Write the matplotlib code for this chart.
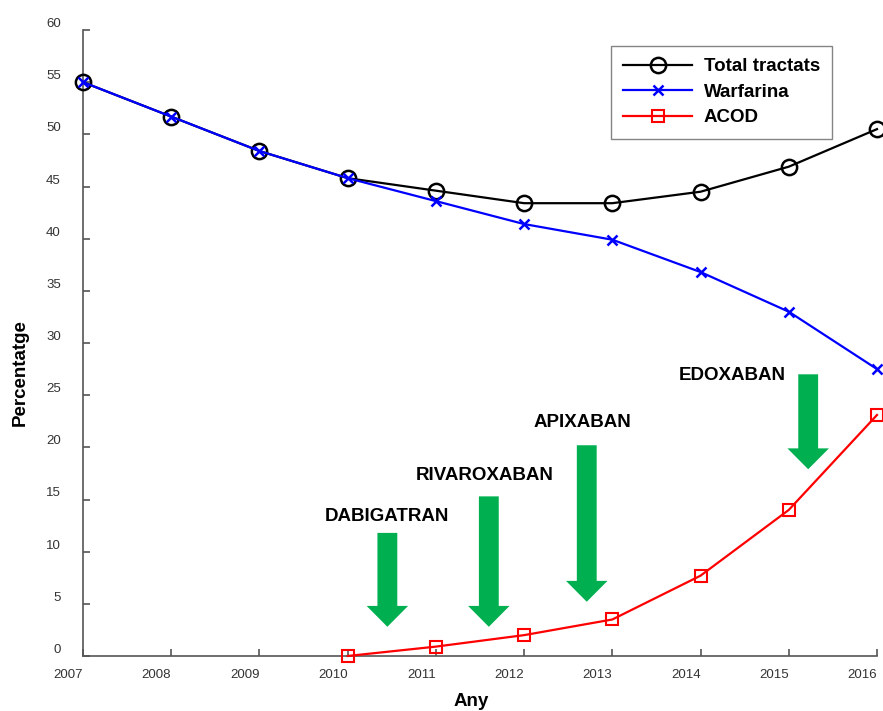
import matplotlib
matplotlib.use("Agg")
import matplotlib.pyplot as plt
from matplotlib.patches import FancyArrow

plt.rcParams['font.family'] = ['Liberation Sans', 'DejaVu Sans']

# dades
anys = [2007, 2008, 2009, 2010, 2011, 2012, 2013, 2014, 2015, 2016]
total_tractats = [55.0, 51.7, 48.4, 45.8, 44.6, 43.4, 43.4, 44.5, 46.9, 50.5]
warfarina = [55.0, 51.7, 48.4, 45.8, 43.6, 41.4, 39.9, 36.8, 33.0, 27.5]
anys_acod = [2010, 2011, 2012, 2013, 2014, 2015, 2016]
acod = [0.0, 0.9, 2.0, 3.5, 7.7, 14.0, 23.1]

# fàrmacs: nom, posició del text (any, %), fletxa (any, inici, final)
farmacs = ['DABIGATRAN', 'RIVAROXABAN', 'APIXABAN', 'EDOXABAN']
text_x = [2010.44, 2011.55, 2012.66, 2014.36]
text_y = [13.4, 17.3, 22.4, 26.9]
fletxa_x = [2010.45, 2011.6, 2012.71, 2015.22]
fletxa_inici = [11.8, 15.3, 20.2, 27.0]
fletxa_final = [2.8, 2.8, 5.2, 17.9]

fig = plt.figure(figsize=(8.83, 7.11), dpi=100)
ax = fig.add_axes([83 / 883, 55 / 711, 794 / 883, 626 / 711])

ax.plot(anys, total_tractats, color='black', lw=1.6, marker='o', ms=11,
        mfc='none', mec='black', mew=1.8, label='Total tractats', clip_on=False, zorder=3)
ax.plot(anys, warfarina, color='blue', lw=1.6, marker='x', ms=7,
        mew=1.8, label='Warfarina', clip_on=False, zorder=4)
ax.plot(anys_acod, acod, color='red', lw=1.6, marker='s', ms=9,
        mfc='none', mec='red', mew=1.5, label='ACOD', clip_on=False, zorder=4)

# fletxes verdes
verd = '#00B050'
for x, y0, y1 in zip(fletxa_x, fletxa_inici, fletxa_final):
    ax.add_patch(FancyArrow(x, y0, 0, y1 - y0, width=0.225, head_width=0.47,
                            head_length=2.0, length_includes_head=True,
                            color=verd, lw=0, zorder=2))
for nom, x, y in zip(farmacs, text_x, text_y):
    ax.text(x, y, nom, ha='center', va='center', fontsize=13.5,
            fontweight='bold', color='black')

ax.set_xlim(2007, 2016)
ax.set_ylim(0, 60)
ax.set_xticks(anys)
ax.set_yticks(range(0, 61, 5))

for s in ['top', 'right']:
    ax.spines[s].set_visible(False)
for s in ['left', 'bottom']:
    ax.spines[s].set_color('#555555')
    ax.spines[s].set_linewidth(1.2)

ax.tick_params(direction='in', length=5, width=1.2, color='#555555',
               labelsize=9.5, labelcolor='#333333')
ax.tick_params(axis='y', pad=16)
ax.tick_params(axis='x', pad=9)
for lbl in ax.get_xticklabels():
    lbl.set_ha('right')
for lbl in ax.get_yticklabels():
    lbl.set_va('bottom')

fig.text(20 / 883, 1 - 373 / 711, 'Percentatge', rotation=90, ha='center',
         va='center', fontsize=13.5, fontweight='bold')
fig.text(471 / 883, 1 - 701 / 711, 'Any', ha='center', va='center',
         fontsize=13.5, fontweight='bold')

leg = fig.legend(loc='upper right', bbox_to_anchor=(832 / 883, 1 - 46 / 711),
                 borderaxespad=0, handlelength=3.7, fancybox=False,
                 prop={'size': 13.5, 'weight': 'bold'}, labelspacing=0.45,
                 borderpad=0.65, handletextpad=0.6)
leg.get_frame().set_edgecolor('#666666')
leg.get_frame().set_linewidth(1.0)

fig.savefig('out.png', dpi=100)
